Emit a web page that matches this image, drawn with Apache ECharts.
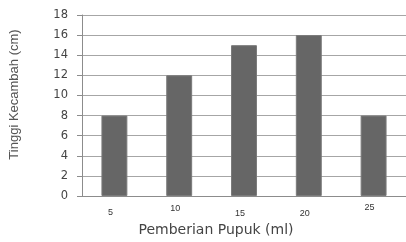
<!DOCTYPE html>
<html>
<head>
<meta charset="utf-8">
<script src="https://cdn.jsdelivr.net/npm/echarts@6/dist/echarts.min.js"></script>
<style>
  html, body { margin: 0; padding: 0; background: #fff; }
  #chart { width: 406px; height: 242px; }
</style>
</head>
<body>
<div id="chart"></div>
<script>
const categories = ['5', '10', '15', '20', '25'];
const values = [8, 12, 15, 16, 8];
const labelShift = [4, 0, 5, 5, -1];

const chart = echarts.init(document.getElementById('chart'), null, { renderer: 'canvas' });

const option = {
  animation: false,
  grid: { left: 82, right: -2, top: 15, bottom: 41 },
  xAxis: {
    type: 'category',
    data: categories.map((c, i) => ({
      value: c,
      textStyle: { padding: [labelShift[i], 8, 0, 0] }
    })),
    axisLine: { lineStyle: { color: '#8c8c8c' } },
    axisTick: { length: 4, lineStyle: { color: '#8c8c8c' } },
    axisLabel: {
      color: '#333',
      fontSize: 9,
      fontFamily: 'Liberation Sans Narrow, Liberation Sans',
      margin: 8
    },
    name: 'Pemberian Pupuk (ml)',
    nameLocation: 'middle',
    nameGap: 27,
    nameTextStyle: { color: '#444', fontSize: 14, fontFamily: 'DejaVu Sans', padding: [0, 56, 0, 0] }
  },
  yAxis: {
    type: 'value',
    min: 0,
    max: 18,
    interval: 2,
    axisLine: { show: true, lineStyle: { color: '#8c8c8c' } },
    axisTick: { show: true, length: 5, lineStyle: { color: '#8c8c8c' } },
    splitLine: { lineStyle: { color: '#a6a6a6' } },
    axisLabel: { color: '#444', fontSize: 11.5, fontFamily: 'DejaVu Sans', margin: 14 },
    name: 'Tinggi Kecambah (cm)',
    nameLocation: 'middle',
    nameGap: 61,
    nameTextStyle: { color: '#555', fontSize: 13, fontFamily: 'Liberation Sans Narrow, Liberation Sans', padding: [0, 0, 0, 22] }
  },
  series: [{
    type: 'bar',
    data: values,
    barWidth: '40%',
    itemStyle: { color: '#666666', borderColor: '#7a7a7a', borderWidth: 1 }
  }]
};

chart.setOption(option);
</script>
</body>
</html>
